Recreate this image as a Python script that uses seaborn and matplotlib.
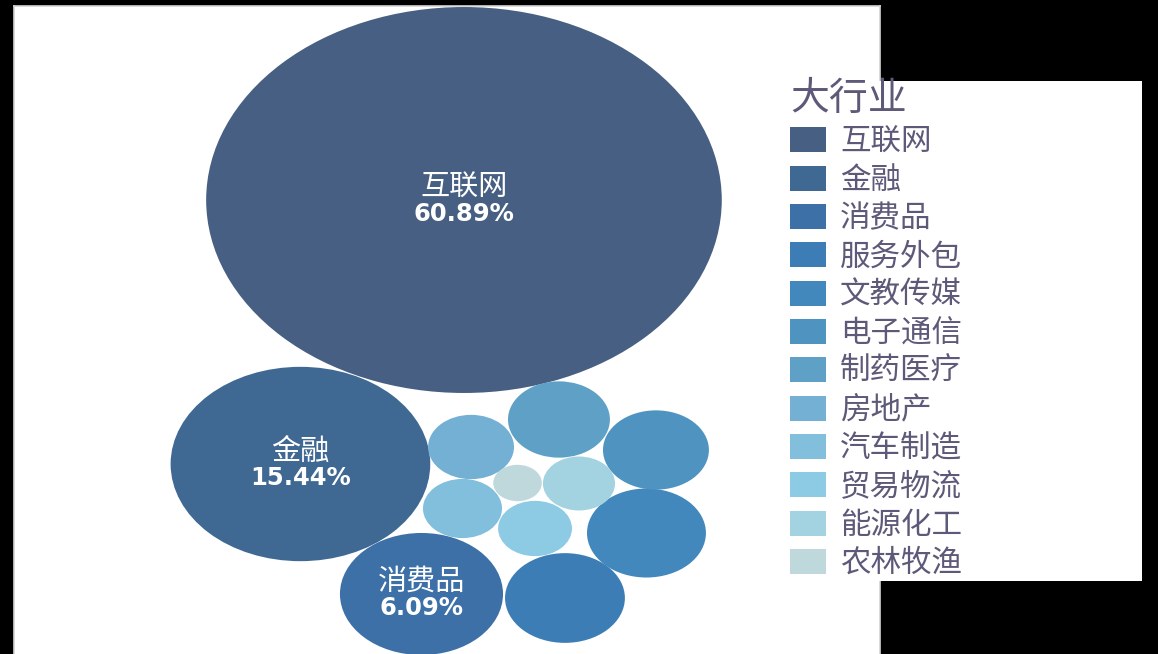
import numpy as np
import pandas as pd
import matplotlib.pyplot as plt
from matplotlib.patches import Circle, Patch, Rectangle
import seaborn as sns

# data: share of postings by industry (%)
industries = ["互联网", "金融", "消费品", "服务外包", "文教传媒", "电子通信",
              "制药医疗", "房地产", "汽车制造", "贸易物流", "能源化工", "农林牧渔"]
share = [60.89, 15.44, 6.09, 3.29, 3.24, 2.57, 2.38, 1.69, 1.43, 1.25, 1.19, 0.54]

# packed bubble layout (bubble centres, in bubble units)
layout_x = [336.8, 214.4, 305.0, 412.4, 473.4, 480.5, 407.9, 342.1, 335.7, 390.0, 422.9, 376.9]
layout_y = [454.0, 190.0, 60.0, 56.0, 121.0, 204.0, 234.5, 207.0, 145.5, 125.5, 170.5, 171.0]

colors = ["#465f82", "#3f6893", "#3c70a6", "#3b7db4", "#4288bd", "#4f93c0",
          "#5fa1c6", "#73b0d3", "#82bfdd", "#8ccbe3", "#a3d3e0", "#bed8dc"]

df = pd.DataFrame({"industry": industries, "share": share,
                   "x": layout_x, "y": layout_y})
df["r"] = 24.73 * np.sqrt(df["share"])

sns.set_theme(style="white")
plt.rcParams["font.family"] = ["Noto Sans CJK SC", "DejaVu Sans"]
palette = sns.color_palette(colors)

fig = plt.figure(figsize=(11.58, 6.54), dpi=100, facecolor="black")
ax = fig.add_axes([14 / 1158, 0, 866 / 1158, 648 / 654])
ax.set_facecolor("white")

for i, row in df.iterrows():
    ax.add_patch(Circle((row["x"], row["y"]), row["r"], facecolor=palette[i],
                        edgecolor="none", zorder=2))

# labels on the three biggest bubbles
for i, row in df.head(3).iterrows():
    ax.text(row["x"], row["y"] + 12, row["industry"], color="white",
            fontsize=21, ha="center", va="center", zorder=3)
    ax.text(row["x"], row["y"] - 14, f"{row['share']:.2f}%", color="white",
            fontsize=17.5, fontweight="bold", family="DejaVu Sans",
            ha="center", va="center", zorder=3)

ax.set_xlim(0, 866 / 1.336)
ax.set_ylim(0, 648)
ax.set_xticks([])
ax.set_yticks([])
for s in ax.spines.values():
    s.set_color("#d4d4d4")
    s.set_linewidth(1.2)
ax.spines["bottom"].set_visible(False)

# legend panel
fig.patches.append(Rectangle((879 / 1158, 73 / 654), 263 / 1158, 500 / 654,
                             transform=fig.transFigure, facecolor="white",
                             edgecolor="none", zorder=2))

text_c = "#5c5a78"
fsz = 22
handles = [Patch(facecolor=palette[i], edgecolor="none") for i in range(len(industries))]
leg = fig.legend(handles, industries, title="大行业", loc="upper left",
                 bbox_to_anchor=(790 / 1158, 1 - 79 / 654), frameon=False,
                 fontsize=fsz, title_fontsize=28, borderpad=0, borderaxespad=0,
                 handlelength=26 / fsz, handleheight=19.5 / fsz,
                 handletextpad=10 / fsz, labelspacing=0.24, alignment="left")
for t in leg.get_texts():
    t.set_color(text_c)
leg.get_title().set_color(text_c)
leg.set_zorder(5)

fig.savefig("out.png", dpi=100, facecolor="black")
